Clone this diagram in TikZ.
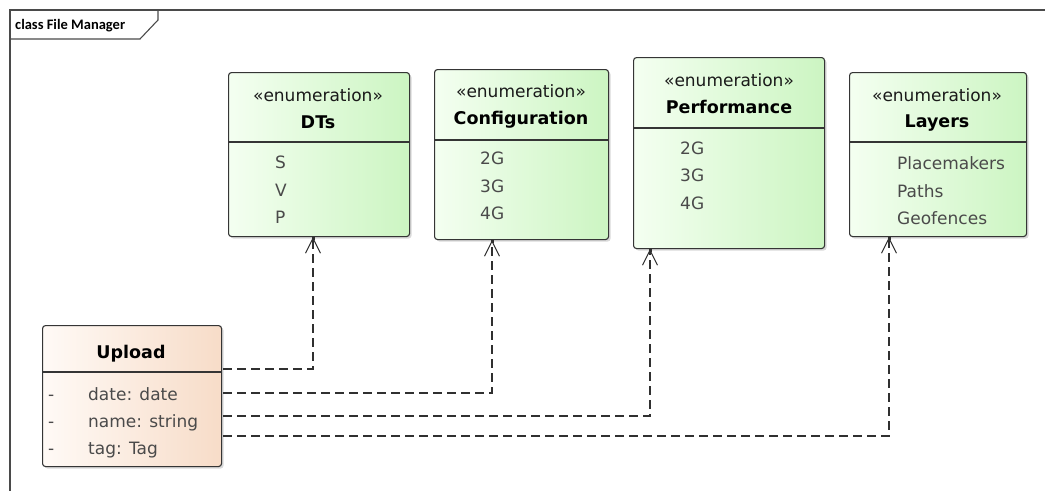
\documentclass[tikz,border=0pt]{standalone}
\usepackage{fontspec}
\setmainfont{DejaVu Sans}
\newfontfamily\framefont{Carlito}
\usetikzlibrary{arrows.meta,shadows,calc}
\definecolor{gl}{HTML}{F4FFF1}
\definecolor{gr}{HTML}{CCF5C2}
\definecolor{pl}{HTML}{FFFAF6}
\definecolor{pr}{HTML}{F7DCC8}
\definecolor{boxc}{HTML}{353535}
\definecolor{txt}{HTML}{1A1A1A}
\definecolor{itc}{HTML}{4A4A4A}
\definecolor{depc}{HTML}{303030}
\definecolor{framec}{HTML}{4A4A4A}
\begin{document}
\begin{tikzpicture}[x=1pt,y=-1pt,
  box/.style={draw=boxc, line width=1.1pt, rounded corners=3pt, anchor=north west, inner sep=0pt,
    drop shadow={shadow xshift=2pt, shadow yshift=-2pt, opacity=0.3, fill=gray}},
  enum/.style={box, left color=gl, right color=gr},
  cls/.style={box, left color=pl, right color=pr},
  divider/.style={draw=boxc, line width=1.1pt},
  stereo/.style={anchor=base, inner sep=0pt, font=\fontsize{17}{20}\selectfont, text=txt},
  ttl/.style={anchor=base, inner sep=0pt, font=\fontsize{17.5}{20}\selectfont\bfseries, text=black},
  item/.style={anchor=base west, inner sep=0pt, font=\fontsize{17}{20}\selectfont, text=itc},
  dep/.style={draw=depc, line width=1.2pt, dash pattern=on 9pt off 5pt,
    -{Straight Barb[length=15pt,width=15pt,line width=1pt]}},
  frame/.style={draw=framec, line width=1.5pt}]
\useasboundingbox (0,0) rectangle (1045,491);
% frame
\draw[frame] (1045,10) -- (10,10) -- (10,491);
\draw[frame, line width=1.1pt] (158,10) -- (158,20) -- (140,39) -- (10,39);
\node[anchor=base west, inner sep=0pt, font=\framefont\bfseries\fontsize{14.5}{16}\selectfont] (title) at (15,29) {class File Manager};

% boxes
\node[enum, minimum width=181pt, minimum height=164pt] (dts) at (228,72) {};
\node[enum, minimum width=174pt, minimum height=170pt] (config) at (434,69) {};
\node[enum, minimum width=191pt, minimum height=191pt] (perf) at (633,57) {};
\node[enum, minimum width=177pt, minimum height=164pt] (layers) at (849,72) {};
\node[cls, minimum width=179pt, minimum height=141pt] (upload) at (42,325) {};

% dividers
\draw[divider] (228,142) -- (409,142);
\draw[divider] (434,140) -- (608,140);
\draw[divider] (633,128) -- (824,128);
\draw[divider] (849,142) -- (1026,142);
\draw[divider] (42,372) -- (221,372);

% DTs
\node[stereo] (dtsS) at (318,101) {«enumeration»};
\node[ttl] (dtsT) at (318,128) {DTs};
\node[item] (dts1) at (275,168) {S};
\node[item] (dts2) at (275,196) {V};
\node[item] (dts3) at (275,223) {P};
% Configuration
\node[stereo] (cfgS) at (521,97) {«enumeration»};
\node[ttl] (cfgT) at (521,124) {Configuration};
\node[item] (cfg1) at (480,164) {2G};
\node[item] (cfg2) at (480,192) {3G};
\node[item] (cfg3) at (480,219) {4G};
% Performance
\node[stereo] (perfS) at (729,86) {«enumeration»};
\node[ttl] (perfT) at (729,113) {Performance};
\node[item] (perf1) at (680,154) {2G};
\node[item] (perf2) at (680,181) {3G};
\node[item] (perf3) at (680,209) {4G};
% Layers
\node[stereo] (laySub) at (937,101) {«enumeration»};
\node[ttl] (layT) at (937,127) {Layers};
\node[item] (lay1) at (897,169) {Placemakers};
\node[item] (lay2) at (897,197) {Paths};
\node[item] (lay3) at (897,224) {Geofences};
% Upload
\node[ttl] (upT) at (131,358) {Upload};
\node[item] (upd1) at (48,400) {-};
\node[item] (upd2) at (48,427) {-};
\node[item] (upd3) at (48,454) {-};
\node[item] (up1) at (88,400) {date: date};
\node[item] (up2) at (88,427) {name: string};
\node[item] (up3) at (88,454) {tag: Tag};

% dependencies
\draw[dep] ($(upload.north east)+(1,44)$) -| ($(dts.south west)+(85,0)$);
\draw[dep] ($(upload.north east)+(1,68)$) -| ($(config.south west)+(58,0)$);
\draw[dep] ($(upload.north east)+(1,91)$) -| ($(perf.south west)+(17,0)$);
\draw[dep] ($(upload.north east)+(1,111)$) -| ($(layers.south west)+(40,0)$);
\fill[depc] ($(dts.south west)+(83.5,0)$) rectangle +(3,3);
\fill[depc] ($(config.south west)+(56.5,0)$) rectangle +(3,3);
\fill[depc] ($(perf.south west)+(15.5,0)$) rectangle +(3,3);
\fill[depc] ($(layers.south west)+(38.5,0)$) rectangle +(3,3);
\end{tikzpicture}
\end{document}
